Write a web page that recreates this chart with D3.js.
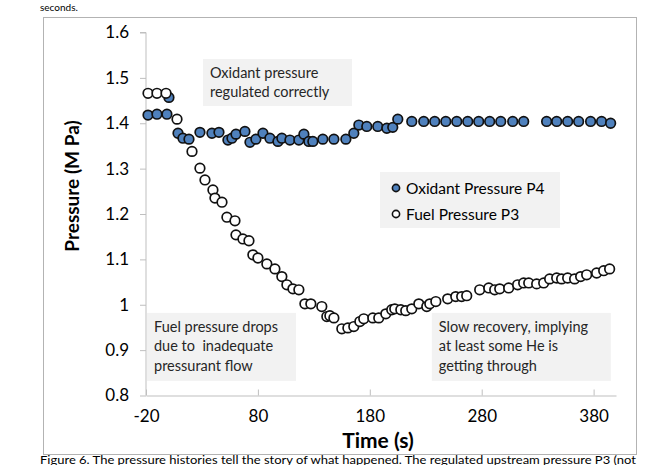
<!DOCTYPE html>
<html><head><meta charset="utf-8">
<script src="https://cdn.jsdelivr.net/npm/d3@7"></script>
<style>body{margin:0;background:#fff}svg{display:block}</style>
</head><body>
<script>
// Data
const oxTime = [-18.2,-10.2,-1.3,0.5,8.6,13,18.4,28.2,38.9,45.2,53.2,56.8,60.4,68.4,72.9,78.2,84.5,90.7,97.9,101.4,108.6,116.6,121.1,125.5,129.1,138,147.9,158.6,165.7,170.2,177.3,187.1,195.2,200.5,205,217.5,228.2,238,247.9,257.7,267.5,277.3,287.1,297,307.7,317.5,338,347,356.8,366.6,377.3,387.1,395.2];
const oxP = [1.418,1.420,1.420,1.457,1.378,1.367,1.365,1.380,1.378,1.380,1.363,1.367,1.376,1.382,1.358,1.365,1.378,1.367,1.360,1.367,1.363,1.363,1.376,1.360,1.360,1.365,1.365,1.365,1.378,1.396,1.393,1.393,1.389,1.391,1.409,1.404,1.404,1.404,1.404,1.404,1.404,1.404,1.404,1.404,1.404,1.404,1.404,1.404,1.404,1.404,1.404,1.404,1.400];
const fuelTime = [-18.2,-10.2,-2.1,7.7,21.1,28.2,32.7,39.8,41.6,47.9,52.3,59.5,60.4,66.6,72,75.5,80,88,95.2,101.4,105.9,111.3,116.6,122,127.3,137.1,141.6,144.3,147.9,155,160.4,165.7,171.1,174.6,182.7,188,194.3,199.6,202.3,207.7,212.1,217.5,223.8,230.9,233.6,239,249.6,256.8,262.1,266.6,278.2,286.3,291.6,296.1,304.1,312.1,317.5,322,329.1,335.4,340.7,347,351.4,356.8,363,368.4,373.8,382.7,389,394.3];
const fuelP = [1.466,1.466,1.466,1.409,1.338,1.301,1.275,1.253,1.235,1.226,1.193,1.185,1.154,1.145,1.141,1.110,1.103,1.090,1.079,1.062,1.044,1.035,1.033,1.002,1.002,0.996,0.974,0.976,0.971,0.947,0.949,0.952,0.963,0.969,0.971,0.971,0.980,0.989,0.991,0.989,0.987,0.991,1.002,0.996,1.002,1.007,1.013,1.018,1.018,1.020,1.033,1.037,1.033,1.035,1.037,1.044,1.048,1.048,1.046,1.048,1.057,1.059,1.057,1.059,1.057,1.062,1.066,1.070,1.075,1.079];
const xTicks = [-20,80,180,280,380];
const yTicks = [0.8,0.9,1,1.1,1.2,1.3,1.4,1.5,1.6];
const seriesNames = ["Oxidant Pressure P4","Fuel Pressure P3"];
const notes = [
  {lines:["Oxidant pressure","regulated correctly"], t:30.9, p:1.5416},
  {lines:["Fuel pressure drops","due to  inadequate","pressurant flow"], t:-19.1, p:0.982},
  {lines:["Slow recovery, implying","at least some He is","getting through"], t:235.4, p:0.982}
];

const W=671,H=465;
const svg=d3.select("body").append("svg").attr("width",W).attr("height",H);
const font="Lato, 'Open Sans', sans-serif";
const axisCol="#bfbfbf";

// page text fragments
svg.append("text").attr("x",40).attr("y",10.5).attr("font-family",font).attr("font-size",10).attr("fill","#000").text("seconds.");
svg.append("text").attr("x",40).attr("y",464).attr("font-family",font).attr("font-size",11)
  .attr("textLength",596).attr("lengthAdjust","spacingAndGlyphs").attr("fill","#000")
  .text("Figure 6. The pressure histories tell the story of what happened. The regulated upstream pressure P3 (not");

// chart frame
svg.append("rect").attr("x",43.5).attr("y",17.5).attr("width",593).attr("height",437).attr("fill","#fff").attr("stroke","#b3b3b3");

const x=d3.scaleLinear().domain([-20,400]).range([146,616]);
const y=d3.scaleLinear().domain([0.8,1.6]).range([395.5,32.5]);

// note boxes
const noteW=[149,149,179];
notes.forEach((n,i)=>{
  const g=svg.append("g");
  const x0=x(n.t), y0=y(n.p);
  const h = n.lines.length===2?47:68;
  g.append("rect").attr("x",x0).attr("y",y0).attr("width",noteW[i]).attr("height",h).attr("fill","#f2f2f2");
  n.lines.forEach((l,j)=>{
    g.append("text").attr("x",x0+7).attr("y",y0+19+j*19.5).attr("font-family",font).attr("font-size",14.5).attr("fill","#262626").style("white-space","pre").text(l);
  });
});

// axes
const yAxis=d3.axisLeft(y).tickValues(yTicks).tickSize(6).tickFormat(d=>d===1?"1":d3.format(".1f")(d));
const gy=svg.append("g").attr("transform",`translate(${x(-20)},0)`).call(yAxis);
gy.select(".domain").attr("stroke",axisCol).attr("d",`M-6,${y(1.6)}H0V${y(0.8)}`);
gy.selectAll(".tick line").attr("stroke",axisCol);
gy.selectAll(".tick text").attr("font-family",font).attr("font-size",17).attr("fill","#000").attr("x",-17);

const xAxis=d3.axisBottom(x).tickValues(xTicks).tickSizeInner(-6).tickSizeOuter(0).tickFormat(d=>String(d));
const gx=svg.append("g").attr("transform",`translate(0,${y(0.8)})`).call(xAxis);
gx.select(".domain").attr("stroke",axisCol);
gx.selectAll(".tick line").attr("stroke",axisCol);
gx.selectAll(".tick text").attr("font-family",font).attr("font-size",17).attr("fill","#000").attr("y",14);

svg.append("text").attr("x",378).attr("y",448).attr("text-anchor","middle").attr("font-family",font).attr("font-weight","bold").attr("font-size",21).attr("fill","#000").text("Time (s)");
svg.append("text").attr("transform",`translate(79,186) rotate(-90)`).attr("text-anchor","middle").attr("font-family",font).attr("font-weight","bold").attr("font-size",19).attr("fill","#000").text("Pressure (M Pa)");

// data marks
const ox=oxTime.map((t,i)=>({t,p:oxP[i]}));
const fu=fuelTime.map((t,i)=>({t,p:fuelP[i]}));
svg.append("g").selectAll("circle").data(ox).join("circle")
  .attr("cx",d=>x(d.t)).attr("cy",d=>y(d.p)).attr("r",4.8)
  .attr("fill","#4f81bd").attr("stroke","#111").attr("stroke-width",1.7);
svg.append("g").selectAll("circle").data(fu).join("circle")
  .attr("cx",d=>x(d.t)).attr("cy",d=>y(d.p)).attr("r",4.8)
  .attr("fill","#fff").attr("stroke","#111").attr("stroke-width",1.7);

// legend
const lg=svg.append("g");
lg.append("rect").attr("x",380).attr("y",172).attr("width",180).attr("height",56).attr("fill","#f2f2f2");
seriesNames.forEach((s,i)=>{
  const yy=188+i*26;
  lg.append("circle").attr("cx",396).attr("cy",yy).attr("r",3.6)
    .attr("fill",i===0?"#4f81bd":"#fff").attr("stroke","#111").attr("stroke-width",1.6);
  lg.append("text").attr("x",406).attr("y",yy+5.5).attr("font-family",font).attr("font-size",15.5).attr("fill","#000").text(s);
});
</script>
</body></html>
